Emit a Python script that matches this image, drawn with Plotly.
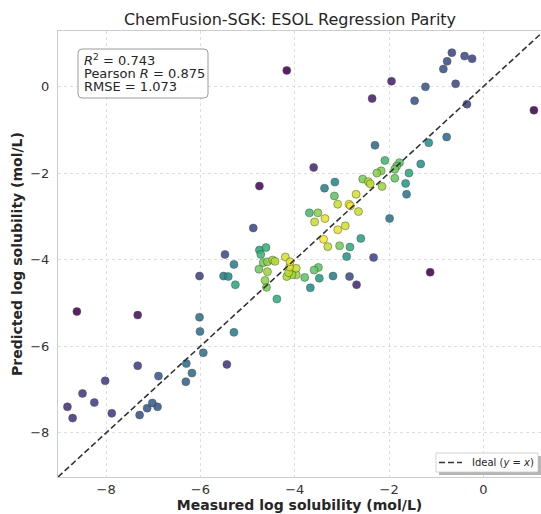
import numpy as np
import plotly.graph_objects as go

# ---- data (measured, predicted log solubility) ----
measured = [
    -0.67, -0.40, -0.24, -0.77, -0.85, -1.95, -1.23, -0.59, -1.46, -0.35,
    1.07, -4.17, -2.36, -0.78, -1.16, -2.30, -3.60, -2.09, -1.33, -1.78,
    -1.84, -1.88, -2.17, -2.26, -1.58, -1.88, -1.65, -2.15, -2.40, -1.63,
    -1.99, -2.56, -2.44, -3.15, -3.37, -3.16, -2.70, -3.09, -2.85, -2.82,
    -2.65, -3.69, -3.51, -3.58, -3.36, -2.93, -3.09, -3.39, -3.30, -3.05,
    -2.83, -2.60, -2.90, -2.33, -4.20, -4.10, -3.97, -4.11, -4.17, -4.06,
    -3.97, -3.79, -3.59, -3.50, -3.48, -3.19, -2.84, -2.69, -3.67, -1.13,
    -4.88, -5.48, -5.29, -5.51, -5.41, -5.26, -4.75, -4.61, -4.72, -4.67,
    -4.58, -4.47, -4.42, -4.76, -4.58, -4.13, -4.63, -4.60, -4.38, -4.75,
    -6.02, -8.62, -7.33, -6.02, -6.01, -5.29, -5.94, -6.30, -5.44, -6.18,
    -6.31, -7.33, -6.89, -8.02, -8.50, -8.25, -8.82, -8.71, -7.88, -7.29,
    -7.13, -7.02, -6.91,
]
predicted = [
    0.78, 0.70, 0.64, 0.58, 0.40, 0.12, -0.01, 0.06, -0.33, -0.41,
    -0.55, 0.37, -0.28, -1.17, -1.30, -1.36, -1.87, -1.71, -1.79, -1.76,
    -1.84, -1.91, -1.95, -2.00, -2.00, -2.12, -2.24, -2.31, -2.25, -2.49,
    -3.05, -2.14, -2.20, -2.21, -2.35, -2.53, -2.49, -2.72, -2.72, -2.76,
    -2.89, -2.92, -2.92, -3.13, -3.05, -3.22, -3.31, -3.53, -3.70, -3.68,
    -3.71, -3.51, -3.93, -3.95, -3.94, -4.05, -4.20, -4.17, -4.39, -4.35,
    -4.35, -4.41, -4.24, -4.18, -4.43, -4.38, -4.39, -4.58, -4.65, -4.29,
    -3.27, -3.88, -4.11, -4.38, -4.39, -4.58, -3.78, -3.72, -3.88, -4.07,
    -4.05, -4.01, -4.04, -4.22, -4.28, -4.30, -4.48, -4.64, -4.91, -2.30,
    -4.38, -5.20, -5.28, -5.33, -5.66, -5.68, -6.15, -6.40, -6.42, -6.62,
    -6.82, -6.45, -6.69, -6.80, -7.09, -7.30, -7.40, -7.66, -7.55, -7.59,
    -7.43, -7.31, -7.40,
]
stats_lines = ["<i>R</i><sup>2</sup> = 0.743", "Pearson <i>R</i> = 0.875", "RMSE = 1.073"]
tick_vals = [-8, -6, -4, -2, 0]
axis_lo, axis_hi = -9.02, 1.28
x_hi_visible = 1.22

# ---- point density (gaussian KDE, Scott bandwidth) for colouring ----
pts = np.vstack([measured, predicted])
n = pts.shape[1]
factor = n ** (-1.0 / 6.0)
cov = np.cov(pts) * factor ** 2
inv = np.linalg.inv(cov)
dens = np.empty(n)
for i in range(n):
    diff = pts - pts[:, i:i + 1]
    dens[i] = np.exp(-0.5 * np.sum(diff * (inv @ diff), axis=0)).sum()
order = np.argsort(dens)
mx = np.array(measured)[order]
my = np.array(predicted)[order]
dc = dens[order]

# ---- layout geometry (pixels) ----
W, H = 541, 514
L, R, T, B = 58, 0, 31, 37
PW, PH = W - L - R, H - T - B


def px(xp):
    return (xp - L) / PW


def py(yp):
    return (H - B - yp) / PH


fig = go.Figure()
fig.add_trace(go.Scatter(
    x=mx, y=my, mode="markers",
    marker=dict(size=8, color=dc, colorscale="Viridis", opacity=0.88,
                line=dict(color="#3a3a3a", width=0.5)),
    showlegend=False, hoverinfo="x+y",
))
fig.add_trace(go.Scatter(
    x=[axis_lo, axis_hi], y=[axis_lo, axis_hi], mode="lines",
    line=dict(color="#333333", width=1.6, dash="6px,3px"),
    name="Ideal (y = x)", showlegend=False,
))


def rounded_rect(x0, y0, x1, y1, r):
    rx, ry = r / PW, r / PH
    a, b, c, d = px(x0), py(y1), px(x1), py(y0)  # left, bottom, right, top
    return (f"M {a+rx},{b} L {c-rx},{b} Q {c},{b} {c},{b+ry} "
            f"L {c},{d-ry} Q {c},{d} {c-rx},{d} L {a+rx},{d} "
            f"Q {a},{d} {a},{d-ry} L {a},{b+ry} Q {a},{b} {a+rx},{b} Z")


shapes = []
shapes.append(dict(type="path", xref="paper", yref="paper",
                   path=rounded_rect(78, 49, 208, 98, 4),
                   line=dict(color="#9a9a9a", width=1), fillcolor="rgba(255,255,255,0.85)"))
shapes.append(dict(type="rect", xref="paper", yref="paper",
                   x0=px(439), x1=px(541), y0=py(475), y1=py(456),
                   line=dict(width=0), fillcolor="rgba(120,120,120,0.55)"))
shapes.append(dict(type="rect", xref="paper", yref="paper",
                   x0=px(436), x1=px(538), y0=py(472), y1=py(453),
                   line=dict(color="#c8c8c8", width=0.8), fillcolor="white"))
shapes.append(dict(type="line", xref="paper", yref="paper",
                   x0=px(439), x1=px(462), y0=py(462.5), y1=py(462.5),
                   line=dict(color="#333333", width=1.6, dash="6px,3px")))

annotations = []
for k, s in enumerate(stats_lines):
    annotations.append(dict(text=s, xref="paper", yref="paper",
                            x=px(82), y=py(59.5 + 13.6 * k), xanchor="left", yanchor="middle",
                            showarrow=False, font=dict(size=13, color="#262626")))
annotations.append(dict(text="Ideal (<i>y</i> = <i>x</i>)", xref="paper", yref="paper",
                        x=px(470), y=py(462.5), xanchor="left", yanchor="middle",
                        showarrow=False, font=dict(size=10, color="#262626")))

axis_common = dict(
    tickvals=tick_vals, showgrid=True, gridcolor="#dedede", gridwidth=0.8, griddash="dot",
    zeroline=False, showline=True, linecolor="#cccccc", linewidth=1, mirror=True,
    ticks="", tickfont=dict(size=13, color="#333333"), automargin=False,
)

fig.update_layout(
    width=W, height=H,
    margin=dict(l=L, r=R, t=T, b=B),
    paper_bgcolor="white", plot_bgcolor="white",
    font=dict(family="DejaVu Sans", color="#262626"),
    title=dict(text="ChemFusion-SGK: ESOL Regression Parity", x=290 / W, xanchor="center",
               y=1 - 19 / H, yanchor="middle", font=dict(size=16, color="#262626")),
    xaxis=dict(range=[axis_lo, x_hi_visible],
               title=dict(text="<b>Measured log solubility (mol/L)</b>", font=dict(size=14, color="#262626"),
                          standoff=4),
               **axis_common),
    yaxis=dict(range=[axis_lo, axis_hi], ticklabelstandoff=5,
               title=dict(text="<b>Predicted log solubility (mol/L)</b>", font=dict(size=14, color="#262626"),
                          standoff=4),
               **axis_common),
    shapes=shapes, annotations=annotations,
)

fig.write_html("out.html", config={"displayModeBar": False},
               post_script="document.body.style.margin='0px';")
